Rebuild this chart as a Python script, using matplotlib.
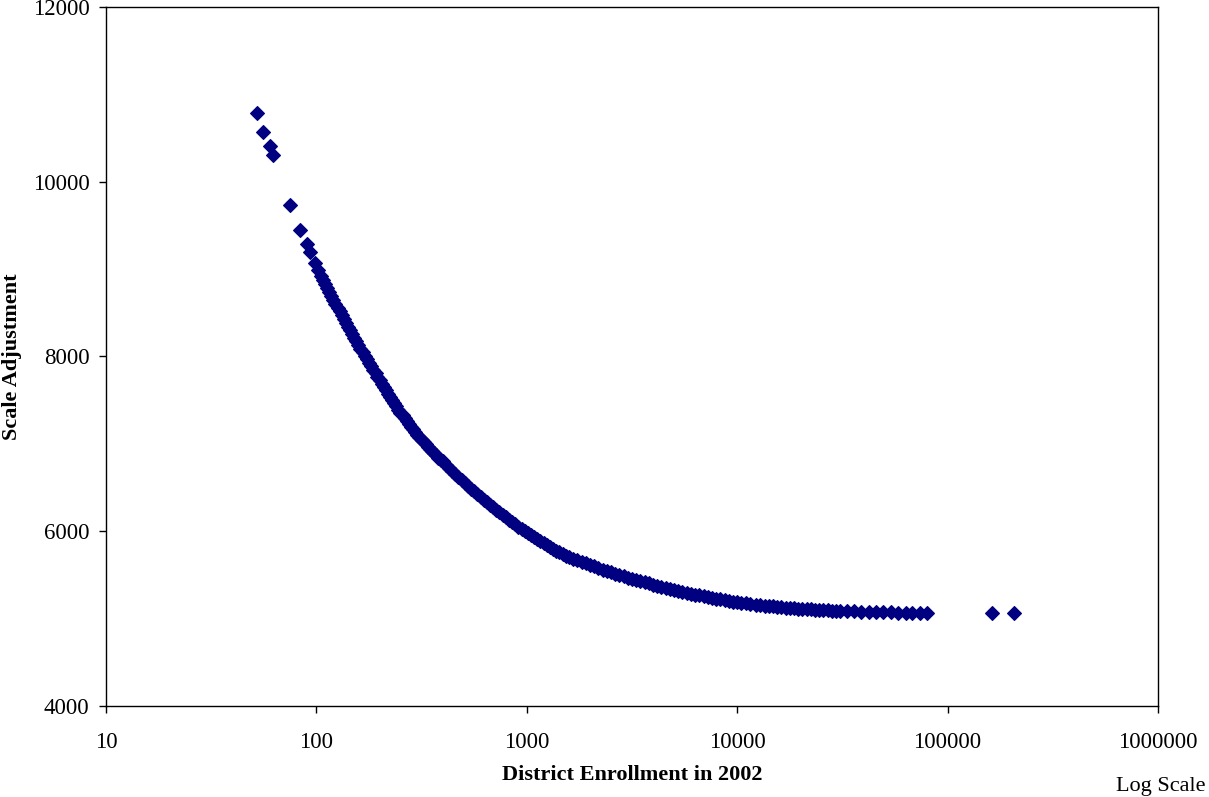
import matplotlib
matplotlib.use("Agg")
import matplotlib.pyplot as plt
import numpy as np

plt.rcParams['font.family'] = ['Liberation Serif', 'DejaVu Serif']

# district enrollment (2002) and the scale adjustment
enrollment = [
    52, 56, 60, 62, 75, 84, 90, 93, 99, 102,
    105, 107, 110, 112, 115, 117, 120, 123, 126, 129,
    132, 135, 138, 141, 145, 148, 151, 155, 158, 162,
    166, 170, 174, 178, 182, 186, 191, 195, 200, 204,
    209, 214, 219, 224, 229, 234, 240, 245, 251, 257,
    263, 269, 275, 282, 288, 295, 302, 309, 316, 324,
    331, 339, 347, 355, 363, 372, 380, 389, 398,
    412, 427, 442, 457, 473, 490, 507, 525, 543, 562,
    582, 603, 624, 646, 668, 692, 716, 741, 767, 794,
    822, 851, 881, 912, 944, 977, 1012, 1047, 1084, 1122,
    1161, 1202, 1245, 1288, 1334, 1380, 1429, 1479, 1531, 1585,
    1660, 1738, 1820, 1905, 1995, 2089, 2188, 2291, 2399, 2512,
    2630, 2754, 2884, 3020, 3162, 3311, 3467, 3631, 3802, 3981,
    4169, 4365, 4571, 4786, 5012, 5248, 5495, 5754, 6026, 6310,
    6607, 6918, 7244, 7586, 7943, 8318, 8710, 9120, 9550, 10000,
    10471, 10965, 11482,
    12303, 12882, 13490, 14125, 14791, 15488, 16218, 16982, 17783, 18621,
    19498, 20417, 21380, 22387, 23442, 24547, 25704, 26915, 28184, 29512,
    30903, 33113, 35892, 38905, 42170, 45709, 49545, 53703, 58210, 63096,
    67608, 73961, 79799, 162550, 207010,
]

scale_adjustment = [
    10791, 10566, 10413, 10303, 9734, 9448, 9288, 9197, 9067, 8991,
    8922, 8876, 8830, 8785, 8739, 8694, 8649, 8605, 8560, 8516,
    8473, 8429, 8386, 8343, 8300, 8258, 8215, 8173, 8132, 8090,
    8049, 8008, 7967, 7927, 7887, 7847, 7807, 7768, 7729, 7689,
    7650, 7612, 7574, 7537, 7500, 7464, 7428, 7393, 7359, 7325,
    7292, 7260, 7228, 7197, 7166, 7136, 7106, 7077, 7049, 7021,
    6994, 6968, 6942, 6917, 6892, 6868, 6844, 6821, 6799,
    6763, 6727, 6692, 6657, 6622, 6588, 6555, 6522, 6489, 6457,
    6425, 6394, 6363, 6333, 6303, 6273, 6244, 6216, 6188, 6160,
    6133, 6106, 6080, 6054, 6028, 6003, 5979, 5955, 5931, 5908,
    5885, 5863, 5841, 5820, 5799, 5778, 5758, 5739, 5720, 5701,
    5687, 5669, 5651, 5633, 5615, 5597, 5579, 5562, 5547, 5532,
    5516, 5501, 5486, 5470, 5455, 5442, 5429, 5416, 5403, 5390,
    5377, 5364, 5351, 5340, 5329, 5318, 5308, 5297, 5286, 5276,
    5265, 5256, 5248, 5239, 5230, 5221, 5213, 5204, 5195, 5189,
    5183, 5176, 5170,
    5161, 5155, 5149, 5144, 5140, 5135, 5131, 5127, 5123, 5118,
    5114, 5111, 5108, 5105, 5102, 5099, 5096, 5093, 5090, 5088,
    5087, 5085, 5082, 5079, 5077, 5075, 5073, 5071, 5069, 5067,
    5066, 5066, 5066, 5066, 5066,
]

x_ticks = [10, 100, 1000, 10000, 100000, 1000000]
x_tick_labels = ['10', '100', '1000', '10000', '100000', '1000000']
y_ticks = [4000, 6000, 8000, 10000, 12000]

fig = plt.figure(figsize=(12.09, 7.97), dpi=100)
ax = fig.add_axes([106/1209, 1 - 706/797, 1052/1209, 699/797])

ax.plot(enrollment, scale_adjustment, linestyle='none', marker='D',
        markersize=7.2, markerfacecolor='#000080', markeredgecolor='#000080',
        markeredgewidth=0.8)

ax.set_xscale('log')
ax.set_xlim(10, 1000000)
ax.set_ylim(4000, 12000)
ax.set_xticks(x_ticks)
ax.set_xticklabels(x_tick_labels)
ax.minorticks_off()
ax.set_yticks(y_ticks)
ax.set_yticklabels([str(v) for v in y_ticks])

ax.tick_params(direction='out', length=5, width=1, labelsize=16.5, colors='black')
ax.tick_params(axis='x', pad=14)
ax.tick_params(axis='y', pad=7)
for sp in ax.spines.values():
    sp.set_linewidth(1)
    sp.set_color('black')

ax.set_xlabel('District Enrollment in 2002', fontsize=16, fontweight='bold')
ax.xaxis.set_label_coords(0.5, (706 - 765) / 699)
ax.set_ylabel('Scale Adjustment', fontsize=16, fontweight='bold')
ax.yaxis.set_label_coords((22 - 106) / 1052, 0.5)

fig.text(1161/1209, 1 - 786/797, 'Log Scale', fontsize=16, ha='center', va='center')

fig.savefig('out.png', dpi=100)
